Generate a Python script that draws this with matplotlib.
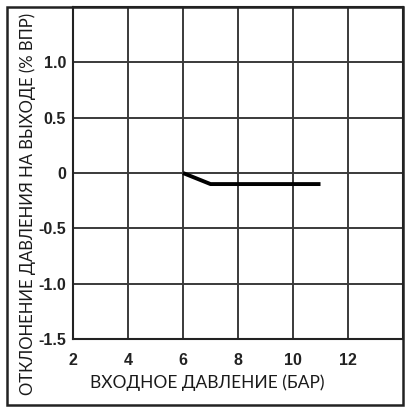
import matplotlib
matplotlib.use("Agg")
import matplotlib.pyplot as plt
from matplotlib.patches import Rectangle

# Data
x_vals = [6, 7, 11]
y_vals = [0, -0.1, -0.1]
x_ticks = [2, 4, 6, 8, 10, 12]
y_ticks = [-1.5, -1.0, -0.5, 0, 0.5, 1.0]
y_ticklabels = ["-1.5", "-1.0", "-0.5", "0", "0.5", "1.0"]
x_label = "ВХОДНОЕ ДАВЛЕНИЕ (БАР)"
y_label = "ОТКЛОНЕНИЕ ДАВЛЕНИЯ НА ВЫХОДЕ (% ВПР)"

W, H = 409, 411
fig = plt.figure(figsize=(W / 100, H / 100), dpi=100)
ax = fig.add_axes([73 / W, (H - 339) / H, (403 - 73) / W, (339 - 7) / H])

ax.set_xlim(2, 14)
ax.set_ylim(-1.5, 1.5)
ax.set_xticks(x_ticks)
ax.set_yticks(y_ticks)
ax.set_yticklabels(y_ticklabels)
ax.set_yticks([1.5], minor=True)
ax.grid(True, which="both", color="#3a3a3a", linewidth=1.4)
ax.set_axisbelow(True)
ax.tick_params(axis="both", which="both", length=0)
ax.tick_params(axis="y", pad=5)
ax.tick_params(axis="x", pad=10)
for lbl in ax.get_xticklabels() + ax.get_yticklabels():
    lbl.set_fontfamily("Liberation Sans")
    lbl.set_fontweight("bold")
    lbl.set_fontsize(11.5)
    lbl.set_color("#222222")
for s in ax.spines.values():
    s.set_linewidth(1.5)
    s.set_color("#222222")

ax.plot(x_vals, y_vals, color="black", linewidth=2.8, solid_capstyle="butt")

fig.text(90 / W, 1 - 383 / H, x_label, ha="left", va="center",
         fontfamily="Lato", fontweight="normal", fontsize=12.5, color="#1a1a1a")
fig.text(28 / W, 1 - 204 / H, y_label, ha="center", va="center", rotation=90,
         fontfamily="Lato", fontweight="normal", fontsize=12, color="#1a1a1a")

fig.patches.append(Rectangle((7 / W, (H - 405) / H), (403 - 7) / W, (405 - 7) / H,
                             transform=fig.transFigure, fill=False,
                             edgecolor="#222222", linewidth=1.8))

fig.savefig("out.png", dpi=100)
